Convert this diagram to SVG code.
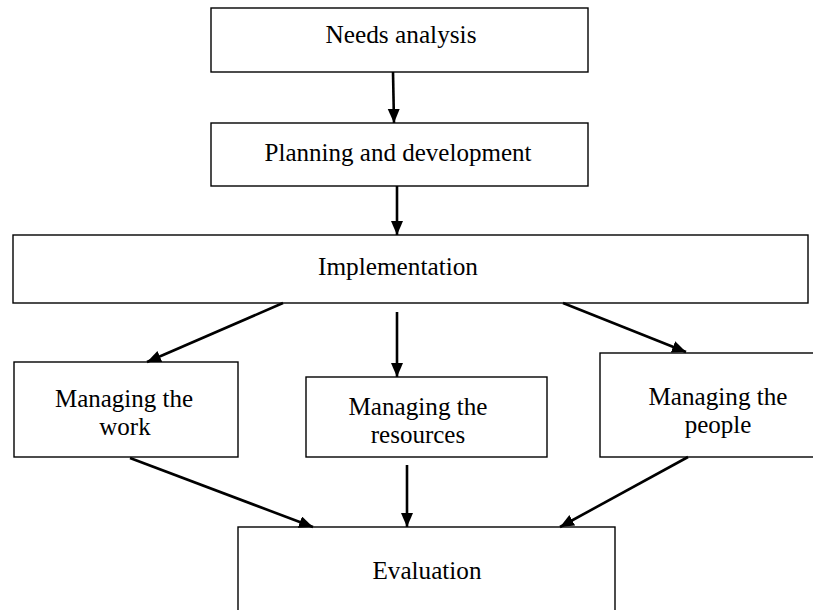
<svg xmlns="http://www.w3.org/2000/svg" width="813" height="610" viewBox="0 0 813 610">
<style>
.box{fill:#fff;stroke:#000;stroke-width:1.4}
.lbl{font-family:"Liberation Serif","Times New Roman",serif;font-size:25px;fill:#000;text-anchor:middle}
.arr{stroke:#000;stroke-width:2.6;fill:none;marker-end:url(#ah)}
</style>
<defs>
<marker id="ah" markerUnits="userSpaceOnUse" markerWidth="16" markerHeight="14" refX="14" refY="6" orient="auto">
<path d="M0,0 L14,6 L0,12 Z" fill="#000"/>
</marker>
</defs>
<rect width="813" height="610" fill="#fff"/>
<g id="needs">
<rect class="box" x="211" y="8" width="377" height="64"/>
<text class="lbl" x="401" y="43" textLength="151" lengthAdjust="spacingAndGlyphs">Needs analysis</text>
</g>
<g id="planning">
<rect class="box" x="211" y="123" width="377" height="63"/>
<text class="lbl" x="398" y="161" textLength="267" lengthAdjust="spacingAndGlyphs">Planning and development</text>
</g>
<g id="implementation">
<rect class="box" x="13" y="235" width="795" height="68"/>
<text class="lbl" x="398" y="275" textLength="160" lengthAdjust="spacingAndGlyphs">Implementation</text>
</g>
<g id="work">
<rect class="box" x="14" y="362" width="224" height="95"/>
<text class="lbl" x="124" y="407" textLength="138" lengthAdjust="spacingAndGlyphs">Managing the</text>
<text class="lbl" x="125" y="435">work</text>
</g>
<g id="resources">
<rect class="box" x="306" y="377" width="241" height="80"/>
<text class="lbl" x="418" y="415" textLength="139" lengthAdjust="spacingAndGlyphs">Managing the</text>
<text class="lbl" x="418" y="443">resources</text>
</g>
<g id="people">
<rect class="box" x="600" y="353" width="240" height="104"/>
<text class="lbl" x="718" y="405" textLength="139" lengthAdjust="spacingAndGlyphs">Managing the</text>
<text class="lbl" x="718" y="433">people</text>
</g>
<g id="evaluation">
<rect class="box" x="238" y="527" width="377" height="100"/>
<text class="lbl" x="427" y="579" textLength="109" lengthAdjust="spacingAndGlyphs">Evaluation</text>
</g>
<g id="connectors">
<line class="arr" x1="393" y1="72" x2="394" y2="123"/>
<line class="arr" x1="397" y1="186" x2="397" y2="235"/>
<line class="arr" x1="283" y1="303" x2="147" y2="362"/>
<line class="arr" x1="397" y1="312" x2="397" y2="377"/>
<line class="arr" x1="563" y1="303" x2="686" y2="352"/>
<line class="arr" x1="130" y1="458" x2="313" y2="527"/>
<line class="arr" x1="407" y1="465" x2="407" y2="527"/>
<line class="arr" x1="688" y1="457" x2="560" y2="527"/>
</g>
</svg>
